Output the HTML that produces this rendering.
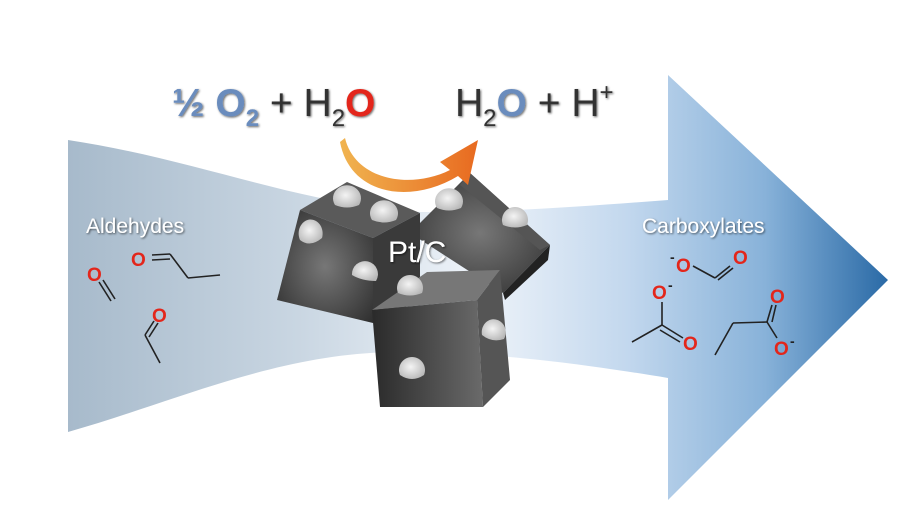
<!DOCTYPE html>
<html><head><meta charset="utf-8"><style>
html,body{margin:0;padding:0;background:#fff}
svg{display:block}
text{font-family:"Liberation Sans",Arial,sans-serif}
</style></head><body>
<svg width="922" height="510" viewBox="0 0 922 510" xmlns="http://www.w3.org/2000/svg">
<defs>
<linearGradient id="band" x1="68" y1="0" x2="888" y2="0" gradientUnits="userSpaceOnUse">
<stop offset="0" stop-color="#a7bacb"/>
<stop offset="0.28" stop-color="#c9d6e2"/>
<stop offset="0.5" stop-color="#eef3f9"/>
<stop offset="0.68" stop-color="#c3d8ee"/>
<stop offset="0.85" stop-color="#88b2d9"/>
<stop offset="1" stop-color="#2a6aa6"/>
</linearGradient>
<linearGradient id="orange" x1="0" y1="0" x2="1" y2="0">
<stop offset="0" stop-color="#f0b450"/>
<stop offset="1" stop-color="#e86a20"/>
</linearGradient>
<radialGradient id="dark" cx="0.5" cy="0.5" r="0.7">
<stop offset="0" stop-color="#777"/><stop offset="1" stop-color="#2e2e2e"/>
</radialGradient>
<linearGradient id="front" x1="0" y1="0" x2="1" y2="0">
<stop offset="0" stop-color="#2a2a2a"/><stop offset="1" stop-color="#6a6a6a"/>
</linearGradient>
<radialGradient id="dot" cx="0.45" cy="0.45" r="0.6">
<stop offset="0" stop-color="#f4f4f4"/><stop offset="1" stop-color="#b8b8b8"/>
</radialGradient>
<filter id="sh" x="-10%" y="-20%" width="130%" height="150%">
<feDropShadow dx="1" dy="1" stdDeviation="1" flood-color="#000" flood-opacity="0.6"/>
</filter>
</defs>
<path d="M68,140 C200,160 300,205 420,212 C520,212 600,205 668,200 L668,75 L888,280 L668,500 L668,378 C560,360 480,352 400,352 C280,352 180,400 68,432 Z" fill="url(#band)"/>

<polygon points="470,173 550,245 503,293 410,233" fill="url(#dark)"/>
<polygon points="470,173 550,245 540,250 460,185" fill="#555"/>
<polygon points="503,293 550,245 548,260 505,300" fill="#222"/>
<polygon points="300,210 347,182 420,213 373,238" fill="#5a5a5a"/>
<polygon points="277,300 300,210 373,238 373,323" fill="url(#dark)"/>
<polygon points="373,238 420,213 420,300 373,323" fill="#3a3a3a"/>
<polygon points="372,310 427,272 500,270 477,300" fill="#777"/>
<polygon points="372,310 477,300 483,407 380,407" fill="url(#front)"/>
<polygon points="477,300 500,270 510,380 483,407" fill="#555"/>

<g fill="url(#dot)">
<path d="M335,205 a14,13 0 1 1 24,0 q-12,5 -24,0z"/>
<path d="M372,220 a14,13 0 1 1 24,0 q-12,5 -24,0z"/>
<path d="M300,240 a12,14 0 1 1 22,-2 q-12,10 -22,2z"/>
<path d="M352,275 a13,13 0 1 1 24,6 q-14,0 -24,-6z"/>
<path d="M437,208 a14,13 0 1 1 24,0 q-12,5 -24,0z"/>
<path d="M503,225 a13,13 0 1 1 24,0 q-12,5 -24,0z"/>
<path d="M398,293 a13,13 0 1 1 24,0 q-12,5 -24,0z"/>
<path d="M482,335 a12,13 0 1 1 22,4 q-12,4 -22,-4z"/>
<path d="M400,375 a13,13 0 1 1 24,0 q-12,8 -24,0z"/>
</g>

<text x="388" y="262" font-size="30" fill="#fff" filter="url(#sh)">Pt/C</text>

<path d="M345,138 C355,180 410,190 450,170 L440,162 L478,140 L468,185 L458,176 C410,205 350,195 340,142 Z" fill="url(#orange)"/>

<text x="172" y="116" font-size="39" fill="#333" filter="url(#sh)"><tspan font-weight="bold" fill="#6a8cbd">½ O</tspan><tspan font-size="24" dy="10" font-weight="bold" fill="#6a8cbd">2</tspan><tspan dy="-10"> + H</tspan><tspan font-size="24" dy="10">2</tspan><tspan dy="-10" font-weight="bold" fill="#e3261b">O</tspan></text>
<text x="455" y="116" font-size="39" fill="#333" filter="url(#sh)">H<tspan font-size="24" dy="10">2</tspan><tspan dy="-10" font-weight="bold" fill="#6a8cbd">O</tspan><tspan> + H</tspan><tspan font-size="24" dy="-16">+</tspan></text>

<text x="86" y="233" font-size="21" fill="#fff" filter="url(#sh)">Aldehydes</text>
<text x="642" y="233" font-size="21" fill="#fff" filter="url(#sh)">Carboxylates</text>

<g stroke="#222" stroke-width="1.6" fill="none">
<line x1="99" y1="282" x2="111" y2="301"/><line x1="103" y1="280" x2="115" y2="299"/>
<line x1="152" y1="255" x2="170" y2="254"/><line x1="152" y1="260" x2="170" y2="259"/>
<line x1="170" y1="254" x2="188" y2="278"/><line x1="188" y1="278" x2="220" y2="275"/>
<line x1="154" y1="321" x2="145" y2="335"/><line x1="158" y1="323" x2="149" y2="337"/>
<line x1="145" y1="335" x2="160" y2="363"/>
<line x1="693" y1="266" x2="715" y2="278"/><line x1="715" y1="278" x2="730" y2="266"/><line x1="718" y1="280" x2="733" y2="268"/>
<line x1="662" y1="302" x2="662" y2="325"/><line x1="662" y1="325" x2="632" y2="342"/>
<line x1="662" y1="325" x2="683" y2="338"/><line x1="660" y1="330" x2="680" y2="342"/>
<line x1="715" y1="355" x2="733" y2="323"/><line x1="733" y1="323" x2="767" y2="322"/>
<line x1="767" y1="322" x2="777" y2="338"/><line x1="767" y1="322" x2="772" y2="305"/><line x1="772" y1="322" x2="776" y2="305"/>
</g>
<g font-size="19" font-weight="bold" fill="#e3261b">
<text x="87" y="281">O</text>
<text x="131" y="266">O</text>
<text x="152" y="322">O</text>
<text x="676" y="272">O</text>
<text x="733" y="264">O</text>
<text x="652" y="299">O</text>
<text x="683" y="350">O</text>
<text x="770" y="303">O</text>
<text x="774" y="355">O</text>
</g>
<g font-size="14" font-weight="bold" fill="#222">
<text x="670" y="262">-</text><text x="668" y="290">-</text><text x="790" y="346">-</text>
</g>
</svg>
</body></html>
